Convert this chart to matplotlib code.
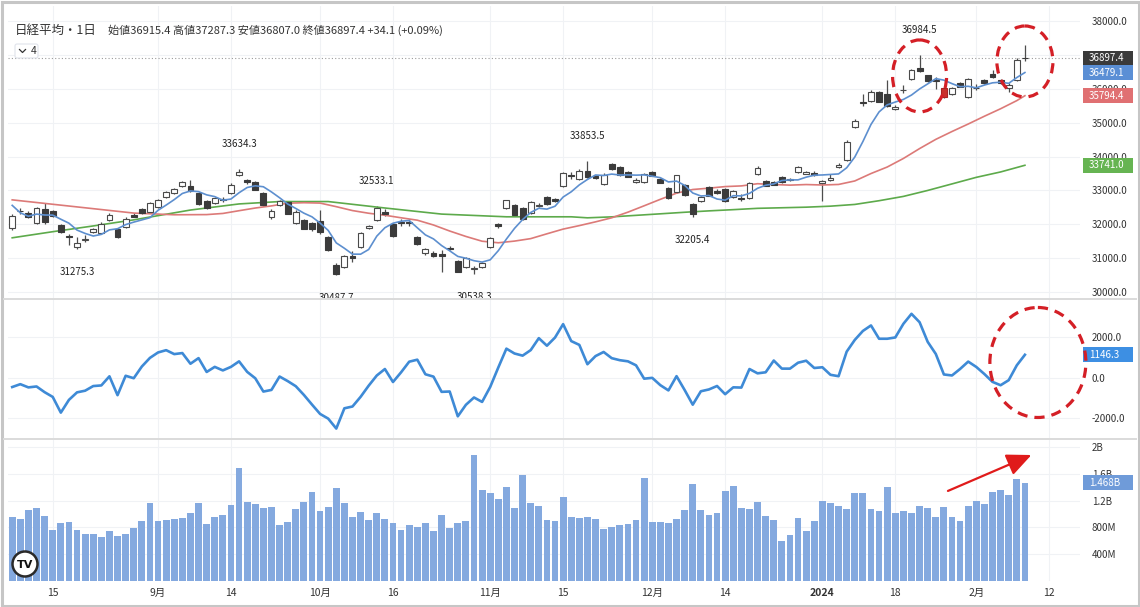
import numpy as np
import matplotlib.pyplot as plt
from matplotlib.patches import Rectangle, Ellipse, Circle, FancyBboxPatch

plt.rcParams['font.family'] = ['Noto Sans CJK JP', 'DejaVu Sans']

W, H = 1140, 607

# 日経平均 daily candles, 2023-08-07 .. 2024-02-09 (126 sessions, index = session number)
opens = [31900, 32400, 32340, 32040, 32450, 32390, 31980, 31640, 31330, 31540,
         31770, 31750, 32130, 31860, 31920, 32280, 32450, 32360, 32510, 32810,
         32920, 33130, 33130, 32930, 32690, 32630, 32740, 32930, 33460, 33310,
         33250, 32930, 32210, 32570, 32660, 32040, 32130, 32040, 32100, 31630,
         30800, 30740, 31060, 31330, 31890, 32130, 32350, 32010, 32060, 32060,
         31630, 31150, 31150, 31120, 31300, 30920, 30740, 30680, 30740, 31330,
         32000, 32480, 32570, 32480, 32340, 32530, 32810, 32740, 33130, 33450,
         33340, 33580, 33430, 33190, 33780, 33690, 33550, 33250, 33250, 33550,
         33340, 33070, 32960, 33160, 32600, 32690, 33100, 32990, 33040, 32810,
         32780, 32780, 33490, 33280, 33250, 33400, 33340, 33550, 33490, 33500,
         33220, 33300, 33690, 33900, 34870, 35600, 35640, 35900, 35850, 35400,
         35950, 36290, 36610, 36400, 36260, 36020, 35850, 36170, 35760, 36030,
         36250, 36430, 36260, 36020, 36260, 36915.4]
highs = [32300, 32480, 32380, 32500, 32630, 32420, 32000, 31700, 31630, 31680,
         31900, 32070, 32330, 31900, 32200, 32330, 32480, 32650, 32760, 32980,
         33060, 33270, 33300, 32950, 32720, 32810, 32800, 33220, 33634.3, 33350,
         33280, 32950, 32450, 32720, 32690, 32420, 32150, 32060, 32420, 31650,
         30850, 31100, 31200, 31780, 31990, 32533.1, 32450, 32030, 32150, 32150,
         31660, 31300, 31200, 31250, 31350, 30950, 31020, 30780, 30900, 31630,
         32050, 32720, 32600, 32500, 32680, 32620, 32830, 32780, 33550, 33530,
         33620, 33853.5, 33460, 33520, 33800, 33710, 33570, 33370, 33520, 33570,
         33360, 33090, 33460, 33180, 32620, 32840, 33120, 33050, 33060, 33000,
         32880, 33240, 33720, 33300, 33280, 33420, 33380, 33730, 33560, 33580,
         33310, 33470, 33820, 34480, 35100, 35840, 35950, 35920, 36260, 35530,
         36100, 36590, 36984.5, 36420, 36340, 36040, 36060, 36190, 36320, 36150,
         36280, 36560, 36290, 36160, 36900, 37287.3]
lows = [31820, 32310, 32180, 32000, 32000, 32200, 31740, 31380, 31275.3, 31480,
        31740, 31700, 32100, 31600, 31880, 32200, 32300, 32340, 32480, 32780,
        32880, 33100, 32960, 32580, 32440, 32600, 32660, 32900, 33420, 33200,
        33000, 32550, 32150, 32540, 32290, 32000, 31850, 31800, 31720, 31200,
        30487.7, 30700, 30900, 31300, 31850, 32100, 32250, 31620, 31950, 31950,
        31400, 31100, 31030, 30600, 31230, 30580, 30700, 30538.3, 30700, 31300,
        31900, 32450, 32250, 32140, 32300, 32500, 32560, 32660, 33100, 33350,
        33310, 33370, 33330, 33150, 33600, 33430, 33390, 33220, 33220, 33410,
        33210, 32760, 32930, 32840, 32205.4, 32660, 32820, 32900, 32660, 32780,
        32680, 32750, 33450, 33120, 33150, 33230, 33280, 33520, 33470, 33420,
        32693, 33270, 33650, 33880, 34830, 35480, 35600, 35600, 35450, 35380,
        35860, 36260, 36490, 36200, 36000, 35730, 35820, 36040, 35740, 35950,
        36130, 36330, 36140, 35900, 36240, 36807.0]
closes = [32254, 32377, 32204, 32473, 32059, 32238, 31766, 31626, 31450, 31565,
          31856, 32010, 32287, 31624, 32169, 32227, 32333, 32619, 32711, 32939,
          33036, 33241, 32991, 32606, 32467, 32776, 32707, 33168, 33533, 33242,
          33023, 32571, 32402, 32678, 32315, 32371, 31872, 31857, 31759, 31237,
          30526, 31075, 30994, 31746, 31936, 32494, 32315, 31659, 32040, 32042,
          31430, 31259, 31062, 31062, 31269, 30601, 30991, 30697, 30859, 31601,
          31950, 32708, 32272, 32166, 32646, 32568, 32585, 32695, 33519, 33424,
          33585, 33388, 33354, 33451, 33625, 33447, 33408, 33321, 33486, 33431,
          33231, 32775, 33445, 32858, 32307, 32791, 32843, 32926, 32686, 32970,
          32758, 33219, 33675, 33140, 33169, 33254, 33305, 33681, 33539, 33464,
          33288, 33377, 33763, 34441, 35049, 35577, 35901, 35619, 35477, 35466,
          35963, 36546, 36517, 36226, 36236, 35751, 36026, 36065, 36287, 36011,
          36158, 36354, 36160, 36119, 36863.3, 36897.4]

# moving averages
ma5 = [32558, 32338, 32237, 32300, 32273, 32270, 32148, 32032, 31828, 31729,
       31653, 31701, 31834, 31868, 31989, 32063, 32128, 32194, 32412, 32566,
       32728, 32909, 32984, 32963, 32868, 32816, 32709, 32745, 32930, 33085,
       33135, 33107, 32954, 32783, 32598, 32467, 32328, 32219, 32035, 31819,
       31450, 31291, 31118, 31116, 31255, 31649, 31897, 32030, 32089, 32110,
       31897, 31686, 31567, 31371, 31216, 31051, 30997, 30924, 30883, 30950,
       31220, 31563, 31878, 32139, 32348, 32472, 32447, 32532, 32803, 32958,
       33162, 33322, 33454, 33440, 33481, 33453, 33457, 33450, 33457, 33419,
       33375, 33249, 33274, 33148, 32923, 32835, 32849, 32745, 32711, 32843,
       32837, 32912, 33062, 33152, 33192, 33291, 33309, 33310, 33390, 33449,
       33455, 33470, 33486, 33667, 33984, 34441, 34946, 35317, 35525, 35608,
       35685, 35814, 35994, 36144, 36298, 36255, 36151, 36061, 36073, 36028,
       36109, 36175, 36194, 36160, 36331, 36479.1]
ma25_idx = [0, 5, 10, 15, 20, 24, 26, 28, 30, 32, 34, 36, 38, 40, 42, 44, 46, 48,
            50, 52, 54, 56, 58, 60, 62, 64, 66, 68, 70, 72, 74, 76, 78, 80, 82, 84,
            86, 88, 90, 92, 94, 96, 98, 100, 102, 104, 106, 108, 110, 112, 114, 116,
            118, 120, 122, 124, 125]
ma25 = [32720, 32590, 32460, 32330, 32280, 32285, 32319, 32400, 32479, 32542,
        32621, 32636, 32625, 32519, 32404, 32325, 32266, 32191, 32120, 31978,
        31800, 31640, 31499, 31453, 31503, 31576, 31718, 31857, 31960, 32071,
        32191, 32357, 32545, 32736, 32918, 33026, 33065, 33112, 33132, 33197,
        33172, 33155, 33172, 33159, 33175, 33278, 33497, 33689, 33942, 34234,
        34506, 34738, 34959, 35189, 35410, 35650, 35794.4]
ma75_idx = [0, 5, 10, 15, 22, 28, 33, 39, 46, 53, 61, 69, 71, 74, 77, 80, 83, 86,
            89, 92, 95, 98, 101, 104, 107, 110, 113, 116, 119, 122, 125]
ma75 = [31600, 31780, 31950, 32130, 32420, 32600, 32670, 32670, 32480, 32300,
        32220, 32220, 32190, 32218, 32263, 32308, 32354, 32395, 32431, 32470,
        32487, 32504, 32534, 32585, 32695, 32822, 32998, 33191, 33385, 33544,
        33741.0]

# middle pane (10-day momentum)
momentum = [-446, -305, -464, -418, -700, -934, -1710, -1081, -709, -627,
            -398, -367, 83, -849, 110, -11, 567, 993, 1261, 1374,
            1180, 1231, 704, 982, 298, 549, 374, 549, 822, 303,
            -13, -670, -589, 72, -152, -405, -835, -1311, -1774, -2005,
            -2497, -1496, -1408, -932, -379, 123, 443, -198, 281, 805,
            904, 184, 68, -684, -667, -1893, -1324, -962, -1181, -441,
            520, 1449, 1210, 1104, 1377, 1967, 1594, 1998, 2660, 1823,
            1635, 680, 1082, 1285, 979, 879, 823, 626, -33, 7,
            -354, -613, 91, -593, -1318, -656, -565, -395, -800, -461,
            -473, 444, 230, 282, 862, 463, 462, 755, 853, 494,
            530, 158, 88, 1301, 1880, 2323, 2596, 1938, 1938, 2002,
            2675, 3169, 2754, 1785, 1187, 174, 125, 446, 810, 545,
            195, -192, -357, -107, 627, 1146.3]

# volume, millions of shares
volume = [950, 920, 1060, 1085, 970, 761, 861, 886, 761, 697,
          702, 662, 746, 672, 702, 786, 901, 1159, 896, 911,
          925, 945, 1020, 1159, 851, 950, 985, 1130, 1682, 1179,
          1149, 1085, 1110, 831, 876, 1070, 1174, 1329, 1040, 1110,
          1388, 1159, 955, 1025, 911, 1015, 920, 861, 761, 836,
          811, 861, 746, 985, 786, 861, 901, 1881, 1353, 1319,
          1219, 1398, 1085, 1582, 1169, 1125, 916, 896, 1249, 950,
          945, 960, 930, 771, 811, 831, 846, 906, 1533, 881,
          881, 866, 925, 1060, 1453, 1060, 985, 1010, 1343, 1423,
          1085, 1075, 1184, 965, 911, 597, 687, 945, 746, 901,
          1194, 1169, 1125, 1075, 1309, 1309, 1070, 1050, 1408, 1020,
          1050, 1010, 1125, 1095, 950, 1105, 960, 891, 1120, 1199,
          1149, 1324, 1359, 1279, 1523, 1468]

tick_idx = [5, 18, 27, 38, 47, 59, 68, 79, 88, 100, 109, 119, 128]
tick_labels = ['15', '9月', '14', '10月', '16', '11月', '15', '12月', '14', '2024', '18', '2月', '12']
price_ticks = [30000, 31000, 32000, 33000, 34000, 35000, 36000, 37000, 38000]
price_hidden = [37000]   # label sits under the last-price badge
mom_ticks = [-2000, 0, 2000]
vol_ticks = [400, 800, 1200, 1600, 2000]
vol_tick_labels = ['400M', '800M', '1.2B', '1.6B', '2B']
peak_idx = [28, 8, 45, 40, 57, 71, 84, 112]
peak_side = ['high', 'low', 'high', 'low', 'low', 'high', 'low', 'high']
highlight_idx = 115

o = np.array(opens); h = np.array(highs); l = np.array(lows); c = np.array(closes)
x = np.arange(len(c))

fig = plt.figure(figsize=(W / 100, H / 100), dpi=100)
fig.patch.set_facecolor('white')


def px_axes(top, bottom):
    return fig.add_axes([8 / W, 1 - bottom / H, 1072 / W, (bottom - top) / H])


ax1 = px_axes(6, 298)
ax2 = px_axes(299, 438)
ax3 = px_axes(440, 581)

for ax in (ax1, ax2, ax3):
    ax.set_xlim(-0.52, 131.8)
    ax.set_xticks(tick_idx)
    ax.grid(True, color='#f0f2f5', lw=0.8)
    ax.set_axisbelow(True)
    for s in ax.spines.values():
        s.set_visible(False)
    ax.yaxis.tick_right()
    ax.tick_params(length=0, labelsize=7, colors='#333333', pad=8.5)

ax1.set_ylim(29823, 38443)
ax2.set_ylim(-2963, 3901)
ax3.set_ylim(0, 2104)
ax1.tick_params(labelbottom=False)
ax2.tick_params(labelbottom=False)

# candles
up = c >= o
fc = np.where(up, 'white', '#3b3b3b').astype(object)
ec = np.where(up, '#4a4a4a', '#3b3b3b').astype(object)
fc[highlight_idx] = '#c9302c'
ec[highlight_idx] = '#a82222'
ax1.vlines(x, l, h, color='#4d4d4d', lw=0.9, zorder=2)
ax1.bar(x, np.maximum(np.abs(c - o), 20), bottom=np.minimum(o, c), width=0.72,
        color=list(fc), edgecolor=list(ec), linewidth=0.8, zorder=3)

ax1.plot(ma75_idx, ma75, color='#5daa4b', lw=1.2, zorder=2.5)
ax1.plot(ma25_idx, ma25, color='#dc7a78', lw=1.2, zorder=2.5)
ax1.plot(x, ma5, color='#5d8fcf', lw=1.2, zorder=4)
ax1.axhline(c[-1], color='#9b9b9b', lw=0.8, ls=(0, (1, 2)), zorder=1)

ax1.set_yticks(price_ticks)
ax1.set_yticklabels(['' if v in price_hidden else f'{v:.1f}' for v in price_ticks])

for i, side in zip(peak_idx, peak_side):
    v = h[i] if side == 'high' else l[i]
    ax1.annotate(f'{v:.1f}', xy=(i, v), xytext=(0, 18 if side == 'high' else -16.5),
                 textcoords='offset points', ha='center', va='center', fontsize=7,
                 color='#222222', clip_on=True, zorder=5)

ax2.plot(x, momentum, color='#3e8ad6', lw=1.9, zorder=3)
ax2.set_yticks(mom_ticks)
ax2.set_yticklabels([f'{v:.1f}' for v in mom_ticks])

ax3.bar(x, volume, width=0.84, color='#84a9df', zorder=2)
ax3.set_yticks(vol_ticks)
ax3.set_yticklabels(vol_tick_labels)
ax3.set_xticklabels(tick_labels)
ax3.tick_params(axis='x', pad=5, labelsize=7.5)
for lbl in ax3.get_xticklabels():
    if lbl.get_text() == '2024':
        lbl.set_fontweight('bold')

ax3.annotate('', xy=(125.8, 1880), xytext=(115.5, 1344),
             arrowprops=dict(arrowstyle='-|>,head_length=1.0,head_width=0.45',
                             color='#e01b1b', lw=1.6, mutation_scale=15,
                             shrinkA=0, shrinkB=0),
             annotation_clip=False, zorder=6)

# overlay in pixel units for badges, frame and decorations
ov = fig.add_axes([0, 0, 1, 1])
ov.set_xlim(0, W)
ov.set_ylim(H, 0)
ov.axis('off')


def to_px(ax, xv, yv):
    d = ax.transData.transform((xv, yv))
    return d[0], H - d[1]


def badge(ax, value, text, color):
    _, yp = to_px(ax, 0, value)
    ov.add_patch(Rectangle((1083, yp - 7.5), 50, 15, fc=color, ec='none', zorder=5))
    ov.text(1089, yp, text, color='white', fontsize=7, va='center', ha='left', zorder=6)


badge(ax1, c[-1], f'{c[-1]:.1f}', '#3a3a3a')
badge(ax1, ma5[-1], f'{ma5[-1]:.1f}', '#5b8fd5')
badge(ax1, ma25[-1], f'{ma25[-1]:.1f}', '#e07072')
badge(ax1, ma75[-1], f'{ma75[-1]:.1f}', '#66b452')
badge(ax2, momentum[-1], f'{momentum[-1]:.1f}', '#3d8fe3')
badge(ax3, volume[-1], f'{volume[-1] / 1000:.3f}B', '#6f9bd9')

# red dashed circles
red = '#d41f26'
for ax, cx, cy, w, hh in [(ax1, 112, 36378, 54, 72), (ax1, 125, 36805, 56, 71),
                          (ax2, 126.6, 766, 96, 110)]:
    px, py = to_px(ax, cx, cy)
    ov.add_patch(Ellipse((px, py), w, hh, fill=False, ec=red, lw=2.3,
                         ls=(0, (3.2, 2.2)), zorder=7))

# legend line
ov.text(15, 30, '日経平均・1日', fontsize=9, color='#333333', va='center', ha='left')
chg = c[-1] - c[-2]
ov.text(108, 30, f'始値{o[-1]:.1f} 高値{h[-1]:.1f} 安値{l[-1]:.1f} 終値{c[-1]:.1f} '
        f'{chg:+.1f} ({chg / c[-2] * 100:+.2f}%)',
        fontsize=8, color='#333333', va='center', ha='left')
ov.add_patch(FancyBboxPatch((15, 44), 23, 14, boxstyle='round,pad=0,rounding_size=2',
                            fc='white', ec='#e0e3eb', lw=0.8))
ov.plot([19.5, 22.5, 25.5], [49.5, 52.5, 49.5], color='#333333', lw=0.9)
ov.text(31, 51, '4', fontsize=7.5, color='#333333', va='center', ha='left')

# TradingView mark
ov.add_patch(Circle((25, 564), 12.5, fc='white', ec='#2a2a2a', lw=1.8, zorder=5))
ov.text(25, 564.5, 'TV', fontsize=8, fontweight='heavy', color='#111111',
        ha='center', va='center', zorder=6, family='DejaVu Sans')

# pane separators and outer frame
ov.hlines([298.5, 439], 3, W - 3, color='#dadada', lw=1.4)
ov.add_patch(Rectangle((1.5, 1.5), W - 3, H - 3, fill=False, ec='#c6c6c6', lw=2.2))

fig.savefig('out.png', dpi=100)
